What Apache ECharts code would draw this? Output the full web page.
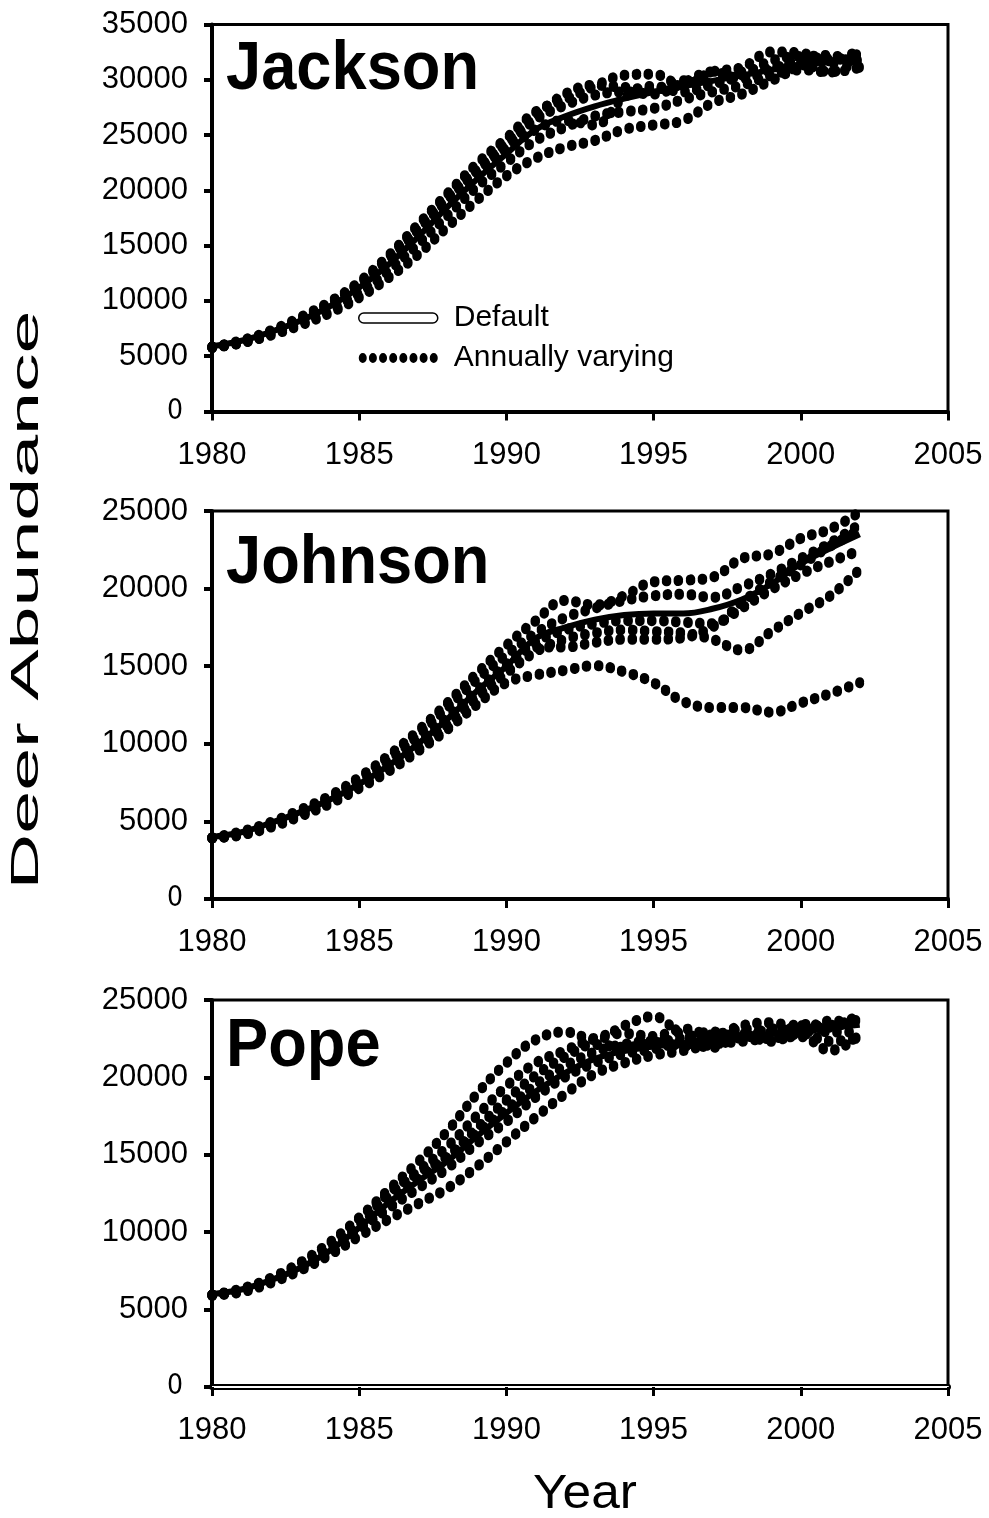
<!DOCTYPE html>
<html>
<head>
<meta charset="utf-8">
<script src="https://cdn.jsdelivr.net/npm/echarts@6/dist/echarts.min.js"></script>
<style>
html, body { margin: 0; padding: 0; background: #fff; }
#chart { width: 989px; height: 1518px; }
</style>
</head>
<body>
<div id="chart"></div>
<script>
var years = [1980, 1981, 1982, 1983, 1984, 1985, 1986, 1987, 1988, 1989, 1990, 1991,
             1992, 1993, 1994, 1995, 1996, 1997, 1998, 1999, 2000, 2001, 2002];

// Jackson
var jacksonDefault = [5900, 6400, 7200, 8200, 9500, 11200, 13300, 15800, 18500, 21000, 23300, 25500,
                      26700, 27600, 28300, 28900, 29400, 29900, 30400, 30900, 31400, 31700, 32000];
var jacksonRuns = [
  [5900, 6500, 7400, 8600, 10000, 11800, 14200, 17000, 19800, 22500, 24800, 27200, 28300, 29500, 30500, 30600, 29600, 30800, 31200, 32600, 32500, 31800, 32800],
  [5900, 6300, 7000, 7900, 9000, 10400, 12200, 14300, 16800, 19200, 21400, 23000, 24000, 24600, 25600, 26000, 26400, 28000, 28800, 30000, 31000, 30800, 31200],
  [5900, 6400, 7200, 8300, 9600, 11300, 13500, 16000, 18700, 21300, 23600, 25600, 26400, 26000, 28500, 29500, 29000, 29700, 30500, 31800, 32200, 31600, 32500],
  [5900, 6400, 7300, 8400, 9800, 11500, 13800, 16500, 19200, 21800, 24000, 26500, 27800, 28700, 29000, 28800, 29800, 30800, 30200, 31000, 32000, 32300, 31200],
  [5900, 6300, 7100, 8100, 9300, 10800, 12800, 15200, 17800, 20400, 22600, 24600, 25800, 26800, 27200, 27500, 28300, 29000, 29600, 30500, 31300, 32000, 31800],
  [5900, 6400, 7300, 8500, 9900, 11700, 14000, 16600, 19400, 22000, 24400, 26800, 28800, 29600, 29400, 29200, 30000, 29800, 30800, 31200, 31500, 30800, 32000]
];

// Johnson
var johnsonDefault = [4000, 4300, 4900, 5600, 6400, 7400, 8600, 10000, 11600, 13400, 15000, 16800,
                      17500, 18000, 18300, 18400, 18400, 18700, 19300, 20300, 21600, 22600, 23500];
var johnsonRuns = [
  [4000, 4400, 5000, 5800, 6700, 7900, 9300, 10900, 12700, 14600, 16400, 18000, 19300, 19000, 19600, 20500, 20600, 20800, 22000, 22300, 23300, 23900, 25000],
  [4000, 4300, 4900, 5700, 6600, 7700, 9000, 10600, 12400, 14200, 15800, 17200, 18200, 18800, 19300, 19600, 19700, 19500, 20200, 21000, 22000, 23000, 24200],
  [4000, 4300, 4900, 5600, 6400, 7500, 8700, 10200, 11800, 13500, 15200, 16600, 17400, 17800, 18000, 18000, 17900, 17800, 19200, 20500, 21600, 22800, 23800],
  [4000, 4200, 4800, 5500, 6300, 7300, 8500, 9800, 11300, 13000, 14600, 16000, 16800, 17200, 17400, 17300, 17200, 16800, 16100, 17300, 18500, 19600, 21300],
  [4000, 4300, 4800, 5500, 6400, 7400, 8600, 10000, 11600, 13200, 14900, 16300, 16300, 16600, 16800, 16800, 16900, 17600, 18800, 20000, 21000, 21800, 22500],
  [4000, 4200, 4700, 5400, 6200, 7200, 8300, 9600, 11000, 12600, 14000, 14500, 14800, 15100, 14700, 14000, 12800, 12400, 12400, 12100, 12700, 13300, 14000]
];

// Pope
var popeDefault = [6000, 6300, 6900, 7700, 8800, 10300, 11900, 13300, 14600, 16200, 17700, 19100,
                   20300, 21200, 21700, 22000, 22200, 22400, 22600, 22800, 23000, 23200, 23400];
var popeRuns = [
  [6000, 6400, 7100, 8100, 9400, 11000, 12800, 14600, 16600, 19000, 21000, 22500, 23000, 22500, 23400, 24000, 22800, 22500, 23200, 23000, 23500, 23300, 24200],
  [6000, 6300, 7000, 7900, 9100, 10600, 12400, 14000, 15600, 17600, 19500, 21000, 21800, 22600, 22900, 22700, 23200, 22800, 23400, 23600, 23200, 23700, 23600],
  [6000, 6300, 6900, 7800, 8900, 10400, 12000, 13500, 14900, 16500, 18000, 19600, 20800, 21700, 22200, 22400, 22100, 22600, 22900, 22700, 23400, 23000, 23000],
  [6000, 6200, 6800, 7600, 8600, 9800, 10900, 11900, 12900, 14300, 15900, 17500, 19000, 20300, 21000, 21500, 21800, 22200, 22400, 22600, 22700, 21800, 22800],
  [6000, 6300, 7000, 7900, 9000, 10500, 12600, 13900, 15000, 16800, 18600, 20200, 21400, 22200, 22000, 22300, 22600, 23000, 22600, 23200, 23000, 23400, 23800],
  [6000, 6300, 6900, 7700, 8800, 10200, 11600, 12900, 14200, 15800, 17200, 18800, 20100, 21000, 21600, 21900, 22300, 22000, 22800, 22400, 22900, 22400, 22600]
];

var panelNames = ['Jackson', 'Johnson', 'Pope'];
var yMax = [35000, 25000, 25000];

var FONT = "'Liberation Sans', Arial, Helvetica, sans-serif";
var NARROW = "'Liberation Sans Narrow', 'Arial Narrow', 'DejaVu Sans Condensed', sans-serif";

var panels = [
  { def: jacksonDefault, runs: jacksonRuns, top: 24.5, height: 387, titleY: 70 },
  { def: johnsonDefault, runs: johnsonRuns, top: 511, height: 388, titleY: 564 },
  { def: popeDefault, runs: popeRuns, top: 1000, height: 387, titleY: 1047 }
];

function toPoints(vals) {
  return years.map(function (y, k) { return [y, vals[k]]; });
}

// legend icons
var pillIcon = 'path://M5,0 L74,0 A5,5 0 0 1 74,10 L5,10 A5,5 0 0 1 5,0 Z';
var dotIcon = 'path://';
for (var d = 0; d < 8; d++) {
  var cx = 4 + d * 10.14;
  dotIcon += 'M' + (cx - 4).toFixed(2) + ',5 A4,5 0 1 0 ' + (cx + 4).toFixed(2) + ',5 A4,5 0 1 0 ' + (cx - 4).toFixed(2) + ',5 Z ';
}

var grids = [], xAxes = [], yAxes = [], series = [], graphics = [];

panels.forEach(function (p, i) {
  grids.push({
    left: 212, width: 736, top: p.top, height: p.height,
    show: true, borderColor: '#000', borderWidth: 3, backgroundColor: 'transparent'
  });
  xAxes.push({
    type: 'value', gridIndex: i, position: 'bottom', min: 1980, max: 2005, interval: 5,
    axisLine: { onZero: false, lineStyle: { color: '#000', width: i === 2 ? 6 : 4 } },
    axisTick: { length: 9, lineStyle: { color: '#000', width: 3 } },
    axisLabel: { color: '#000', fontSize: 31, fontFamily: FONT, margin: 28,
      formatter: function (v) { return String(v); } },
    splitLine: { show: false }
  });
  yAxes.push({
    type: 'value', gridIndex: i, min: 0, max: yMax[i], interval: 5000,
    axisLine: { show: true, lineStyle: { color: '#000', width: 4 } },
    axisTick: { show: true, length: 8, lineStyle: { color: '#000', width: 4 } },
    axisLabel: {
      color: '#000', fontSize: 31, fontFamily: FONT, margin: 24,
      formatter: function (v) { return v === 0 ? '{z|0}' : String(v); },
      rich: { z: { fontFamily: NARROW, fontSize: 28, color: '#000', padding: [0, 5, 0, 0] } }
    },
    splitLine: { show: false }
  });

  p.runs.forEach(function (r) {
    series.push({
      type: 'line', name: 'Annually varying', xAxisIndex: i, yAxisIndex: i,
      data: toPoints(r), smooth: 0.4, symbol: 'none', silent: true, z: 3,
      itemStyle: { color: '#000' },
      lineStyle: { color: '#000', width: 9, type: [0.5, 11.5], cap: 'round',
        shadowColor: '#000', shadowBlur: 0, shadowOffsetY: 2 }
    });
  });
  series.push({
    type: 'line', name: 'Default', xAxisIndex: i, yAxisIndex: i,
    data: toPoints(p.def), smooth: 0.4, symbol: 'none', silent: true, z: 4,
    itemStyle: { color: '#000' },
    lineStyle: { color: '#000', width: 6 }
  });

  graphics.push({
    type: 'text', x: 226, y: p.titleY, scaleX: 0.93,
    style: { text: panelNames[i], fontSize: 68, fontWeight: 'bold', fontFamily: FONT,
      fill: '#000', align: 'left', verticalAlign: 'middle' }
  });
});

// inner white stripe of the Pope x axis
xAxes.push({
  type: 'value', gridIndex: 2, position: 'bottom', min: 1980, max: 2005, interval: 5,
  axisLine: { onZero: false, lineStyle: { color: '#fff', width: 2 } },
  axisTick: { show: false }, axisLabel: { show: false }, splitLine: { show: false }
});

graphics.push({
  type: 'text', x: 28, y: 600, rotation: Math.PI / 2, scaleX: 2.03,
  style: { text: 'Deer Abundance', fontSize: 38, fontFamily: FONT, fill: '#000',
    align: 'center', verticalAlign: 'middle' }
});
graphics.push({
  type: 'text', x: 585, y: 1494, scaleX: 1.05,
  style: { text: 'Year', fontSize: 49, fontFamily: FONT, fill: '#000',
    align: 'center', verticalAlign: 'middle' }
});

var chart = echarts.init(document.getElementById('chart'), null, { renderer: 'canvas' });
chart.setOption({
  backgroundColor: '#fff',
  animation: false,
  textStyle: { fontFamily: FONT },
  grid: grids,
  xAxis: xAxes,
  yAxis: yAxes,
  legend: {
    orient: 'vertical', left: 358, top: 303, padding: 0,
    itemWidth: 79, itemHeight: 11, itemGap: 10,
    selectedMode: false,
    textStyle: { fontSize: 30, color: '#000', fontFamily: FONT, padding: [0, 0, 0, 11] },
    data: [
      { name: 'Default', icon: pillIcon, itemStyle: { color: '#fff', borderColor: '#000', borderWidth: 1.5 } },
      { name: 'Annually varying', icon: dotIcon, itemStyle: { color: '#000', borderWidth: 0 } }
    ]
  },
  graphic: graphics,
  series: series
});
</script>
</body>
</html>
